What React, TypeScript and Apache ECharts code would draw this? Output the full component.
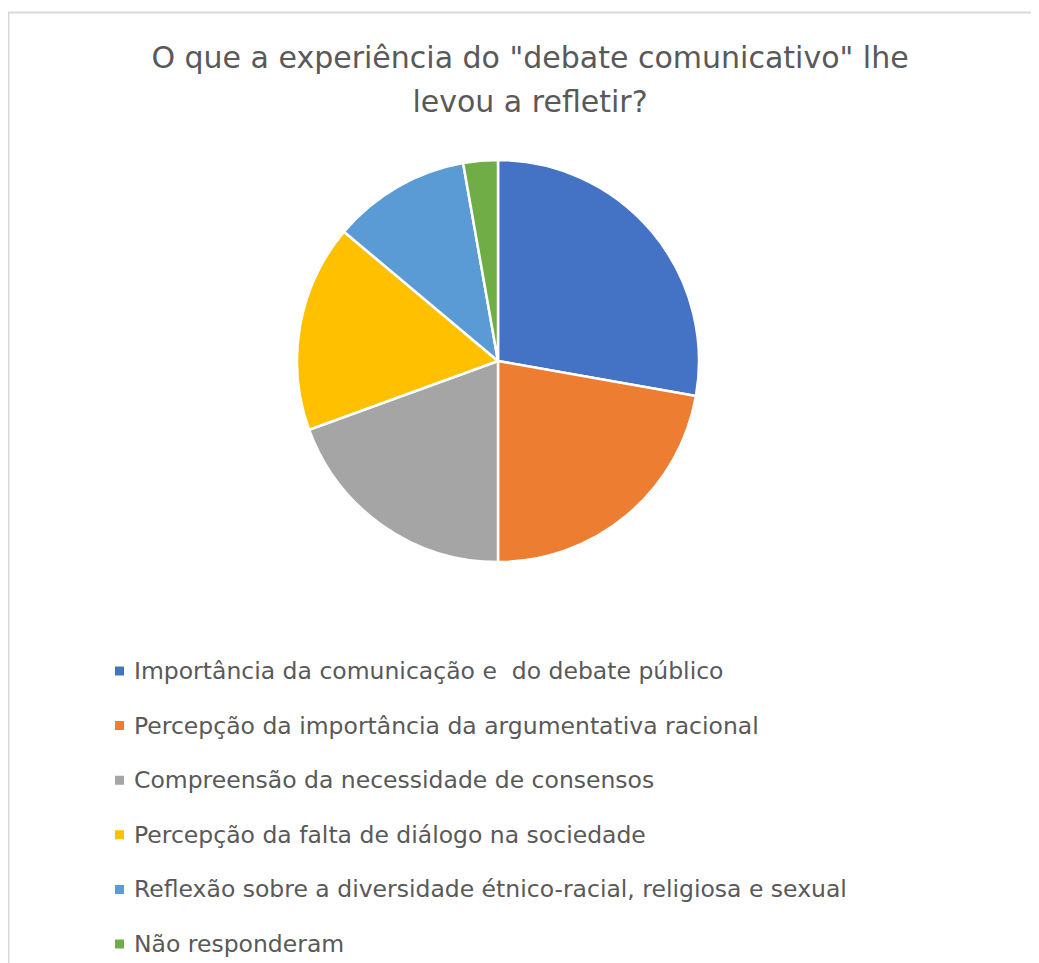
import React, { useEffect, useRef } from "react";
import * as echarts from "echarts";

const titleText = 'O que a experiência do "debate comunicativo" lhe\nlevou a refletir?';
const categories = [
  "Importância da comunicação e  do debate público",
  "Percepção da importância da argumentativa racional",
  "Compreensão da necessidade de consensos",
  "Percepção da falta de diálogo na sociedade",
  "Reflexão sobre a diversidade étnico-racial, religiosa e sexual",
  "Não responderam",
];
const values = [10, 8, 7, 6, 4, 1];
const colors = ["#4472C4", "#ED7D31", "#A5A5A5", "#FFC000", "#5B9BD5", "#70AD47"];

export default function App() {
  const ref = useRef<HTMLDivElement>(null);
  useEffect(() => {
    if (!ref.current) return;
    const chart = echarts.init(ref.current, undefined, { renderer: "svg" });
    chart.setOption({
      animation: false,
      backgroundColor: "#ffffff",
      color: colors,
      graphic: [
        {
          type: "rect",
          silent: true,
          shape: { x: 0.5, y: 4.5, width: 1200, height: 1200 },
          style: { fill: "none", stroke: "#d9d9d9", lineWidth: 2 },
        },
      ],
      title: {
        text: titleText,
        left: 517,
        top: 22,
        textAlign: "center",
        textStyle: {
          fontFamily: "DejaVu Sans",
          fontSize: 30,
          fontWeight: "normal",
          color: "#595959",
          lineHeight: 44,
        },
      },
      legend: {
        orient: "vertical",
        left: 100,
        top: 646,
        height: 400,
        itemWidth: 11,
        itemHeight: 11,
        itemGap: 30.6,
        icon: "rect",
        data: categories,
        textStyle: {
          fontFamily: "DejaVu Sans",
          fontSize: 23.5,
          color: "#595959",
          lineHeight: 24,
          padding: [0, 0, 0, 4],
        },
      },
      series: [
        {
          type: "pie",
          center: [490, 353],
          radius: 201,
          startAngle: 90,
          clockwise: true,
          label: { show: false },
          labelLine: { show: false },
          itemStyle: { borderColor: "#ffffff", borderWidth: 2.5 },
          emphasis: { disabled: true },
          data: categories.map((c, i) => ({ name: c, value: values[i] })),
        },
      ],
    });
    return () => chart.dispose();
  }, []);
  return <div ref={ref} style={{ width: 1031, height: 955 }} />;
}
